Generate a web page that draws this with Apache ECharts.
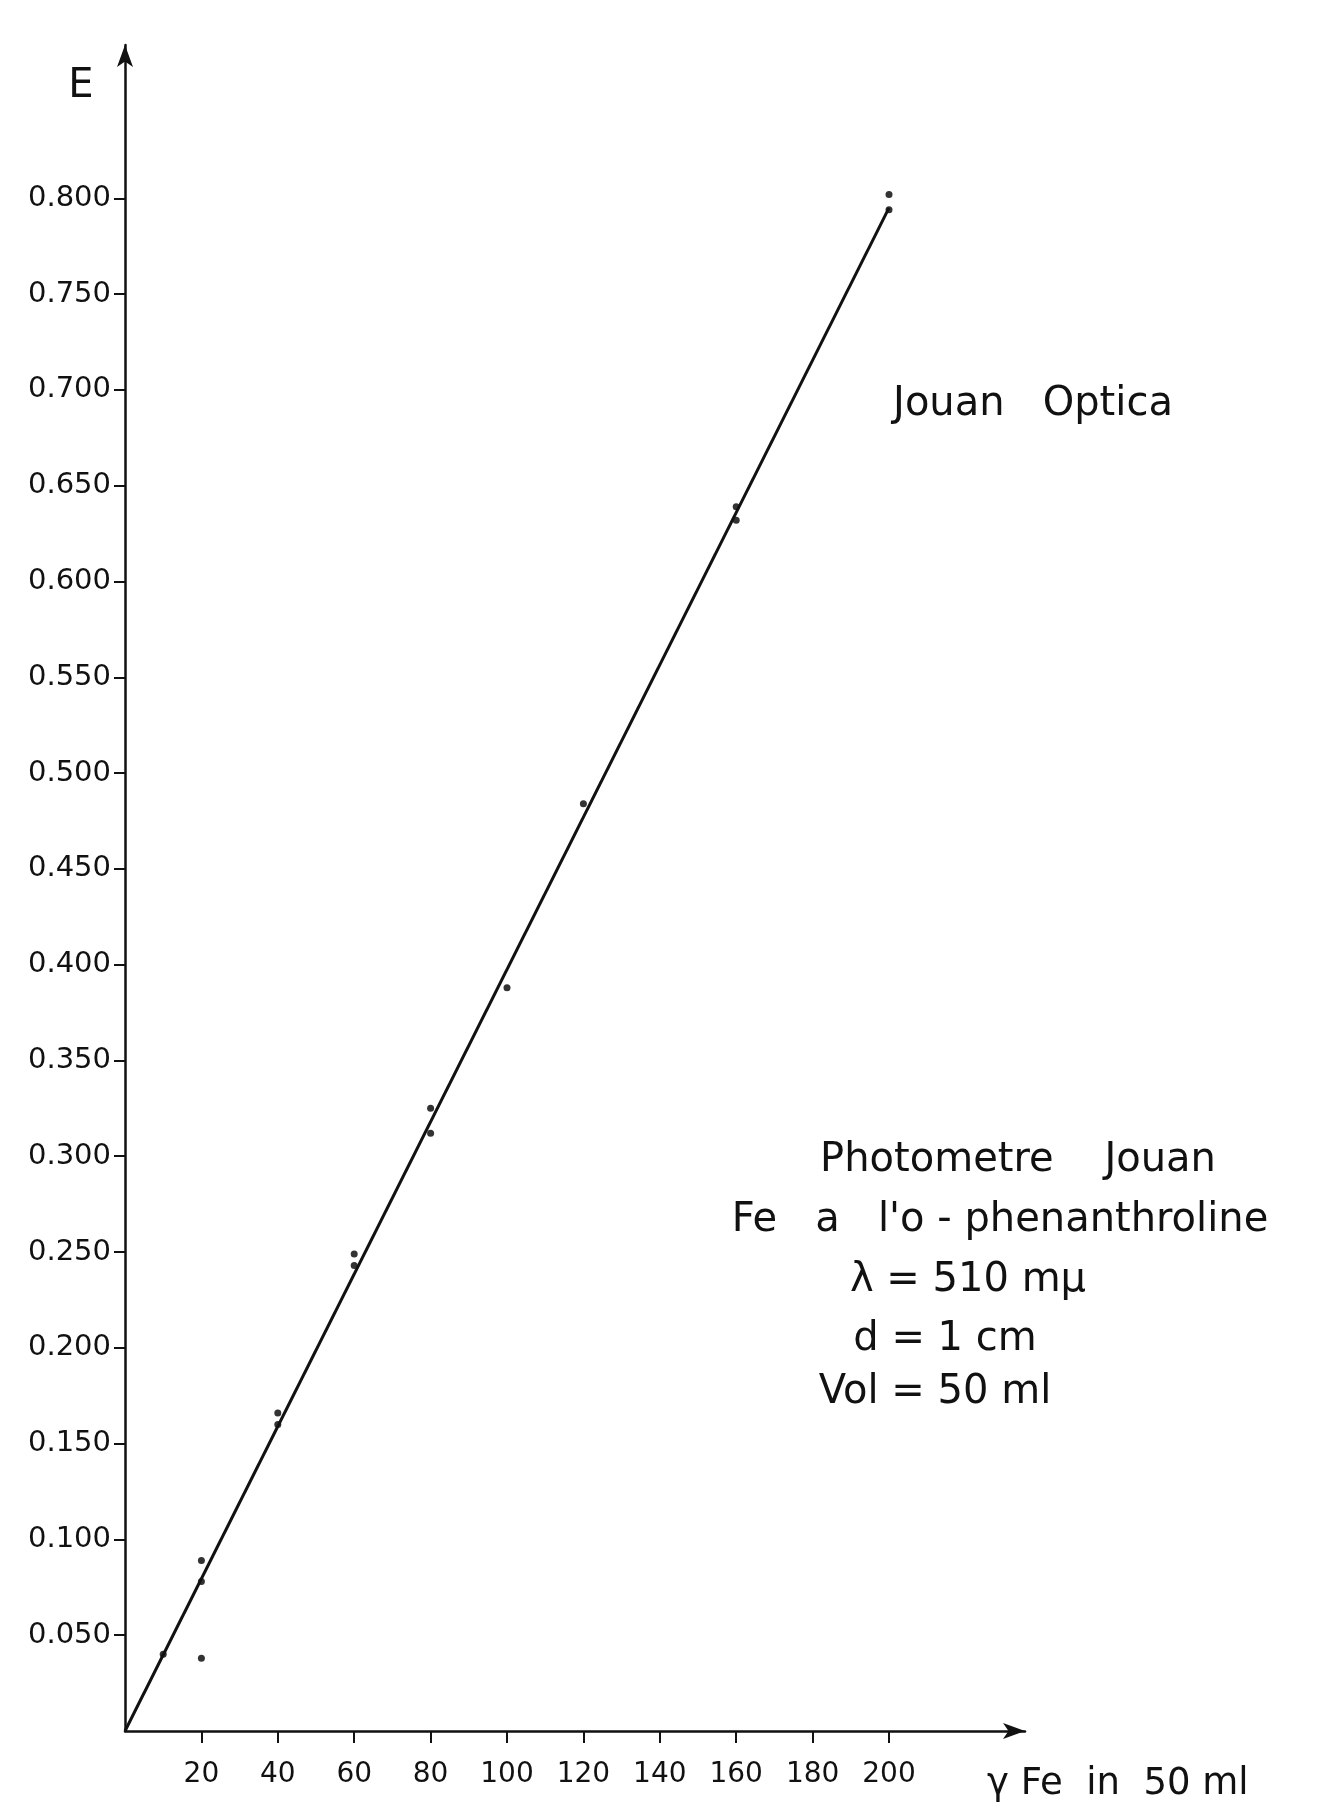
<!DOCTYPE html>
<html>
<head>
<meta charset="utf-8">
<title>Fe a l'o-phenanthroline</title>
<script src="https://cdn.jsdelivr.net/npm/echarts@6/dist/echarts.min.js"></script>
<style>
  html, body { margin: 0; padding: 0; background: #fff; }
  #main { width: 1317px; height: 1805px; }
</style>
</head>
<body>
<div id="main"></div>
<script>
// gamma Fe in 50 ml / extinction E
var feGamma = [10, 20, 20, 20, 40, 40, 60, 60, 80, 80, 100, 120, 160, 160, 200, 200];
var extE = [0.040, 0.089, 0.078, 0.038, 0.166, 0.160, 0.249, 0.243, 0.325, 0.312, 0.388, 0.484, 0.639, 0.632, 0.802, 0.794];

// the drawn calibration line
var fitX = [0, 200];
var fitE = [0, 0.795];

var xTicks = [20, 40, 60, 80, 100, 120, 140, 160, 180, 200];
var yTicks = [0.05, 0.1, 0.15, 0.2, 0.25, 0.3, 0.35, 0.4, 0.45, 0.5, 0.55, 0.6, 0.65, 0.7, 0.75, 0.8];

var myChart = echarts.init(document.getElementById('main'));

var font = 'DejaVu Sans';
var ink = '#111';

// text block helper
function label(txt, x, y, size, align) {
    return {
        type: 'text',
        style: {
            text: txt, x: x, y: y,
            font: size + 'px "DejaVu Sans"',
            fill: ink,
            align: align || 'center',
            verticalAlign: 'middle'
        }
    };
}

var option = {
    backgroundColor: '#fff',
    animation: false,
    grid: { left: 125, right: 292, top: 45, bottom: 74 },
    xAxis: {
        type: 'value',
        min: 0,
        max: 235.6,
        splitLine: { show: false },
        axisLine: { lineStyle: { color: ink, width: 2.5 }, symbol: ['none', 'arrow'], symbolSize: [12, 22] },
        axisTick: { inside: false, length: 12, lineStyle: { color: ink, width: 2 }, customValues: xTicks },
        axisLabel: { margin: 30, color: ink, fontFamily: font, fontSize: 28, customValues: xTicks }
    },
    yAxis: {
        type: 'value',
        min: 0,
        max: 0.88,
        splitLine: { show: false },
        axisLine: { lineStyle: { color: ink, width: 2.5 }, symbol: ['none', 'arrow'], symbolSize: [12, 22] },
        axisTick: { length: 11, lineStyle: { color: ink, width: 2 }, customValues: yTicks },
        axisLabel: {
            margin: 14, color: ink, fontFamily: font, fontSize: 29, customValues: yTicks,
            formatter: function (v) { return v.toFixed(3); }
        }
    },
    series: [
        {
            name: 'fit',
            type: 'line',
            data: fitX.map(function (x, i) { return [x, fitE[i]]; }),
            showSymbol: false,
            lineStyle: { color: ink, width: 3 }
        },
        {
            name: 'E',
            type: 'scatter',
            data: feGamma.map(function (x, i) { return [x, extE[i]]; }),
            symbolSize: 7,
            itemStyle: { color: '#000' }
        }
    ],
    graphic: [
        label('E', 81, 87, 40),
        label('γ Fe  in  50 ml', 987, 1784, 37, 'left'),
        label('Jouan   Optica', 1033, 405, 40),
        label('Photometre    Jouan', 1018, 1161, 40),
        label("Fe   a   l'o - phenanthroline", 1000, 1221, 40),
        label('λ = 510 mμ', 968, 1281, 40),
        label('d = 1 cm', 945, 1340, 40),
        label('Vol = 50 ml', 935, 1393, 40)
    ]
};

myChart.setOption(option);
</script>
</body>
</html>
